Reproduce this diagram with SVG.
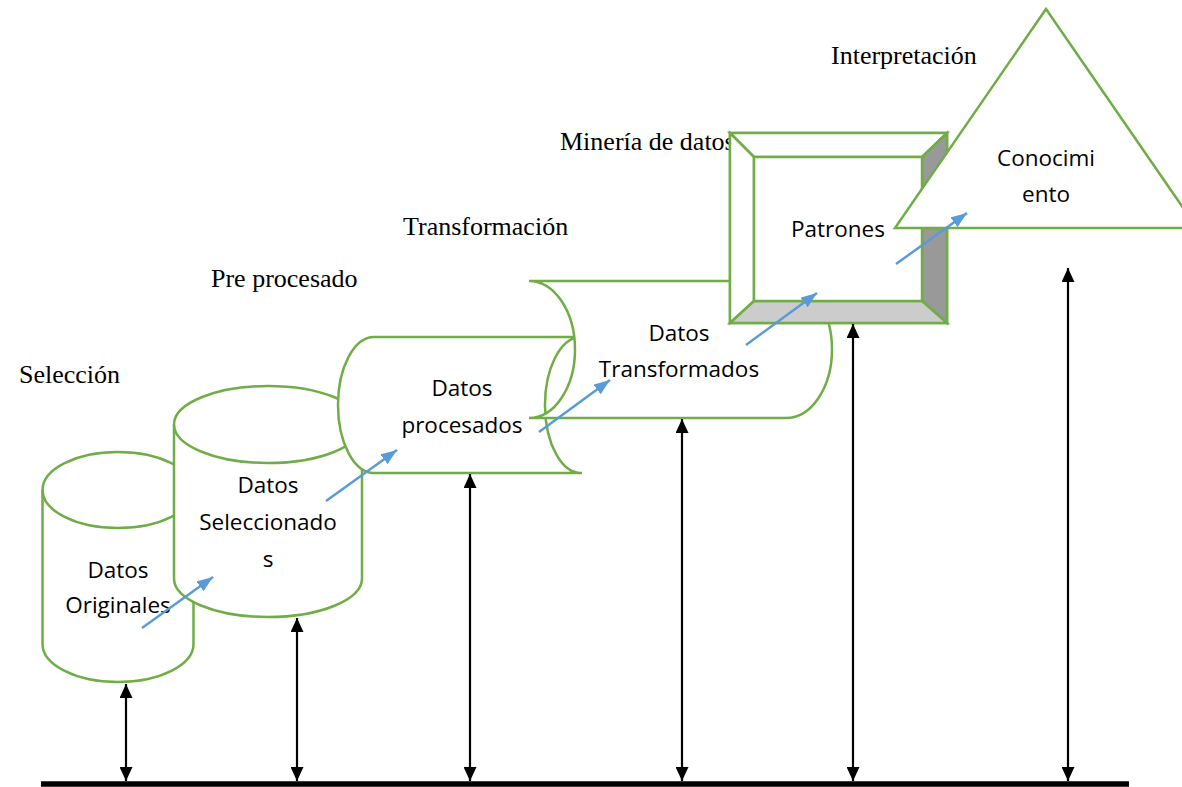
<svg xmlns="http://www.w3.org/2000/svg" width="1182" height="787" viewBox="0 0 1182 787">
  <style>
    .shape { fill: #ffffff; stroke: #70AD47; stroke-width: 2.5; stroke-linejoin: miter; }
    .edge { fill: none; stroke: #70AD47; stroke-width: 2.5; }
    .lbl { font-family: "Open Sans", "Liberation Sans", sans-serif; font-size: 22.5px; fill: #000; text-anchor: middle; }
    .stage { font-family: "Liberation Serif", "Times New Roman", serif; font-size: 26px; fill: #000; }
    .blk { stroke: #000; stroke-width: 2.2; fill: none; }
    .blu { stroke: #5B9BD5; stroke-width: 2.5; fill: none; }
  </style>
  <defs>
    <marker id="ahBlack" viewBox="0 0 14 13" refX="14" refY="6.5" markerWidth="14" markerHeight="13" orient="auto-start-reverse" markerUnits="userSpaceOnUse">
      <path d="M0,0 L14,6.5 L0,13 Z" fill="#000"/>
    </marker>
    <marker id="ahBlue" viewBox="0 0 16 12" refX="16" refY="6" markerWidth="16" markerHeight="12" orient="auto" markerUnits="userSpaceOnUse">
      <path d="M0,0 L16,6 L0,12 Z" fill="#5B9BD5"/>
    </marker>
  </defs>

  <rect x="0" y="0" width="1182" height="787" fill="#ffffff"/>

  <!-- stage labels -->
  <g id="stage-labels">
    <text class="stage" x="19" y="383">Selección</text>
    <text class="stage" x="211" y="287">Pre procesado</text>
    <text class="stage" x="403" y="235">Transformación</text>
    <text class="stage" x="560" y="150">Minería de datos</text>
    <text class="stage" x="831" y="64">Interpretación</text>
  </g>

  <g id="node-datos-originales">
    <path class="shape" d="M42.5,490 A75.5,38 0 0 1 193.5,490 L193.5,644 A75.5,38 0 0 1 42.5,644 Z"/>
    <path class="edge" d="M42.5,490 A75.5,38 0 0 0 193.5,490"/>
    <text class="lbl" x="118" y="578">Datos</text>
    <text class="lbl" x="118" y="613">Originales</text>
  </g>

  <g id="node-datos-seleccionados">
    <path class="shape" d="M174,424.5 A94,38.5 0 0 1 362,424.5 L362,578.5 A94,38.5 0 0 1 174,578.5 Z"/>
    <path class="edge" d="M174,424.5 A94,38.5 0 0 0 362,424.5"/>
    <text class="lbl" x="268" y="493">Datos</text>
    <text class="lbl" x="268" y="530">Seleccionado</text>
    <text class="lbl" x="268" y="567">s</text>
  </g>

  <g id="node-datos-procesados">
    <path class="shape" d="M374,337 L580,337 A36,68 0 0 0 582,473 L374,473 A36,68 0 0 1 374,337 Z"/>
    <text class="lbl" x="462" y="396">Datos</text>
    <text class="lbl" x="462" y="433">procesados</text>
  </g>

  <g id="node-datos-transformados">
    <path class="shape" d="M529,281 L786,281 A46,68.5 0 0 1 786,418 L529,418 A46,68.5 0 0 0 529,281 Z"/>
    <text class="lbl" x="679" y="341">Datos</text>
    <text class="lbl" x="679" y="377">Transformados</text>
  </g>

  <g id="node-patrones">
    <rect class="shape" x="730" y="133" width="217" height="190"/>
    <polygon class="shape" points="730,133 947,133 922,157 754,157"/>
    <polygon class="shape" points="730,133 754,157 754,301 730,323"/>
    <polygon class="shape" style="fill:#999999" points="947,133 947,323 922,301 922,157"/>
    <polygon class="shape" style="fill:#cccccc" points="730,323 947,323 922,301 754,301"/>
    <rect class="shape" x="754" y="157" width="168" height="144"/>
    <text class="lbl" x="838" y="237">Patrones</text>
  </g>

  <g id="node-conocimiento">
    <polygon class="shape" points="1046,9 895,228 1197,228"/>
    <text class="lbl" x="1046" y="166">Conocimi</text>
    <text class="lbl" x="1046" y="202">ento</text>
  </g>

  <g id="connectors">
    <line x1="41" y1="784" x2="1129" y2="784" stroke="#000" stroke-width="5.5"/>
    <line class="blk" x1="126" y1="684" x2="126" y2="781" marker-start="url(#ahBlack)" marker-end="url(#ahBlack)"/>
    <line class="blk" x1="297" y1="618" x2="297" y2="781" marker-start="url(#ahBlack)" marker-end="url(#ahBlack)"/>
    <line class="blk" x1="470" y1="474" x2="470" y2="781" marker-start="url(#ahBlack)" marker-end="url(#ahBlack)"/>
    <line class="blk" x1="682" y1="419" x2="682" y2="781" marker-start="url(#ahBlack)" marker-end="url(#ahBlack)"/>
    <line class="blk" x1="853" y1="324" x2="853" y2="781" marker-start="url(#ahBlack)" marker-end="url(#ahBlack)"/>
    <line class="blk" x1="1068" y1="268" x2="1068" y2="781" marker-start="url(#ahBlack)" marker-end="url(#ahBlack)"/>

    <line class="blu" x1="142" y1="628" x2="213" y2="577" marker-end="url(#ahBlue)"/>
    <line class="blu" x1="326" y1="501" x2="397" y2="450" marker-end="url(#ahBlue)"/>
    <line class="blu" x1="539" y1="432" x2="610" y2="380" marker-end="url(#ahBlue)"/>
    <line class="blu" x1="746" y1="345" x2="817" y2="293" marker-end="url(#ahBlue)"/>
    <line class="blu" x1="896" y1="264" x2="967" y2="213" marker-end="url(#ahBlue)"/>
  </g>
</svg>
